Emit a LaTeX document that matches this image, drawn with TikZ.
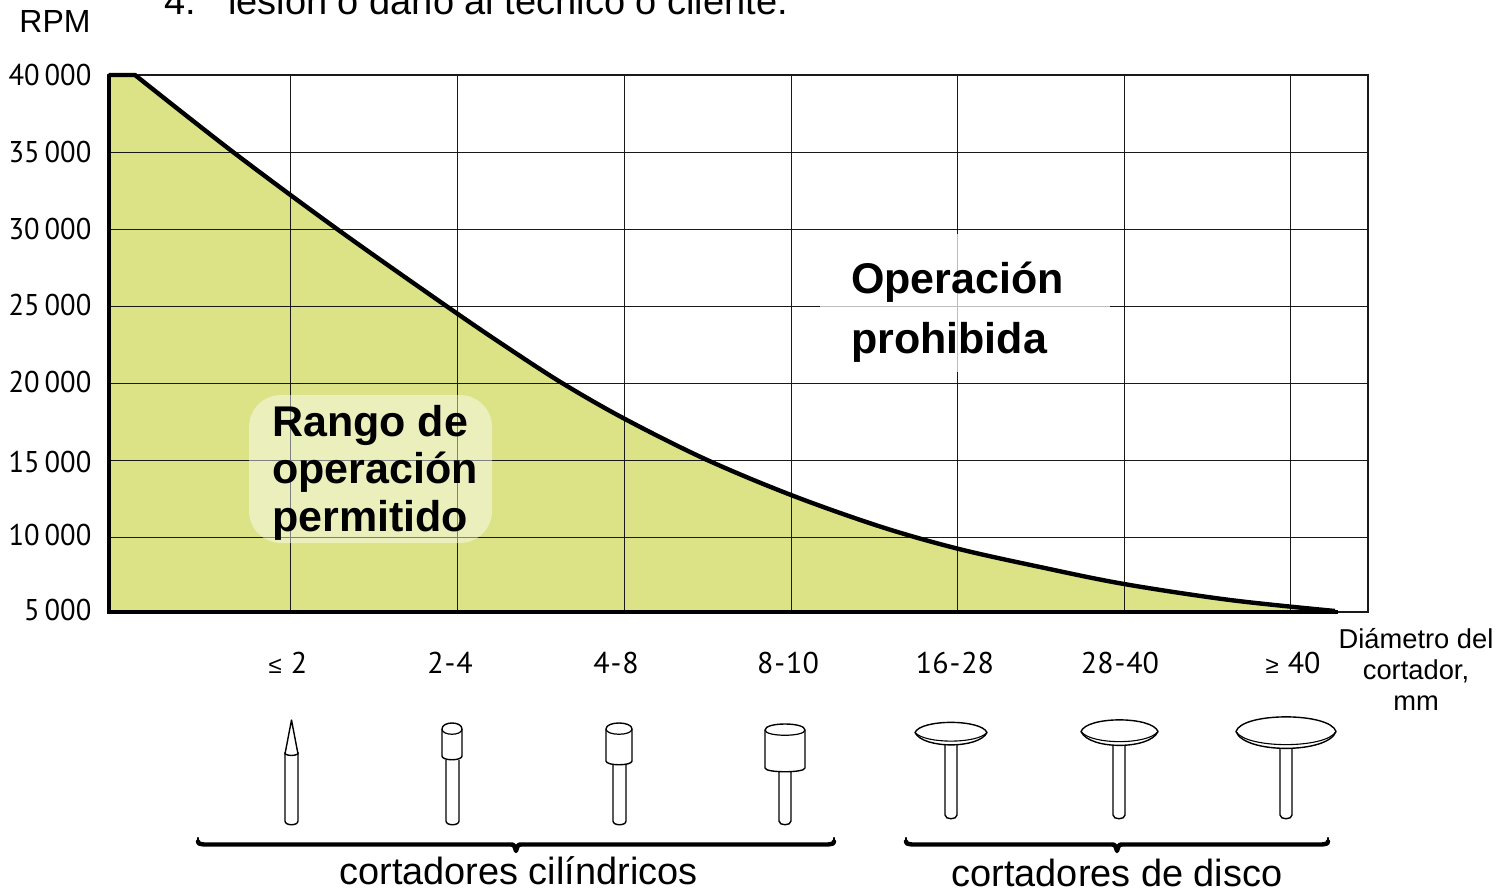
\documentclass[tikz,border=0pt]{standalone}
\usepackage{fontspec}
\setmainfont{Liberation Sans}
\newfontfamily\tickfont{PT Sans}
\newfontfamily\ticknarrow[FakeStretch=0.95]{PT Sans}
\definecolor{zone}{HTML}{DCE286}
\newcommand{\tsp}{\hspace{5pt}}
\newcommand{\hy}{\kern1pt-\kern1pt}
\newcommand{\cmpsym}[1]{{\rmfamily\fontsize{24}{24}\selectfont #1}\hspace{9pt}}
\tikzset{
  grid line/.style={line width=1pt,black!90},
  tick/.style={font=\ticknarrow\fontsize{30}{30}\selectfont,anchor=base east,inner sep=0pt},
  dia/.style={font=\tickfont\fontsize{30}{30}\selectfont,anchor=center,inner sep=0pt},
  lab/.style={font=\fontsize{27.3}{31}\selectfont,align=center,inner sep=0pt},
  big/.style={font=\bfseries\fontsize{43}{47}\selectfont,anchor=base west,inner sep=0pt},
  grp/.style={font=\fontsize{37.9}{40}\selectfont,anchor=base,inner sep=0pt},
  tool/.style={line width=1.4pt,black,fill=white,line join=round},
  brace line/.style={line width=4.4pt,black,line join=round,line cap=round}
}
% shank: left, right, top, bottom
\newcommand{\shankpath}[4]{\draw[tool] (#1,#3) -- (#1,#4-5) .. controls (#1,#4) and (#2,#4) .. (#2,#4-5) -- (#2,#3);}
% cylinder head: left, right, top, bottom
\newcommand{\headpath}[4]{%
  \draw[tool] (#1,#3+6) .. controls (#1,#3-2) and (#2,#3-2) .. (#2,#3+6)
     -- (#2,#4-6) .. controls (#2,#4-1) and (#1,#4-1) .. (#1,#4-6) -- cycle;
  \draw[line width=1.2pt] (#1,#3+6) .. controls (#1,#3+13) and (#2,#3+13) .. (#2,#3+6);}
% disc: left, right, top, bottom
\newcommand{\discpath}[4]{%
  \draw[tool] (#1,{(#3+#4)/2-2}) .. controls (#1+6,#3-3) and (#2-6,#3-3) .. (#2,{(#3+#4)/2-2})
     .. controls (#2-8,#4+2) and (#1+8,#4+2) .. (#1,{(#3+#4)/2-2}) -- cycle;
  \draw[line width=1.1pt] (#1,{(#3+#4)/2-2}) .. controls (#1+10,#4-3) and (#2-10,#4-3) .. (#2,{(#3+#4)/2-2});}
% brace: left, right, y, tip y
\newcommand{\bracepath}[4]{%
  \draw[line width=2.4pt,line cap=round] (#1,#3-6.5) -- (#1,#3-3) (#2,#3-6.5) -- (#2,#3-3);
  \draw[brace line] (#1,#3-3) .. controls (#1,#3-1) .. (#1+6,#3) -- ({(#1+#2)/2-6},#3)
     .. controls ({(#1+#2)/2-2},#3) .. ({(#1+#2)/2},#4-1)
     .. controls ({(#1+#2)/2+2},#3) .. ({(#1+#2)/2+6},#3) -- (#2-6,#3) .. controls (#2,#3-1) .. (#2,#3-3);}
\begin{document}
\begin{tikzpicture}[x=1pt,y=-1pt]
\useasboundingbox (0,0) rectangle (1512,890);
\fill[white] (0,0) rectangle (1512,890);
% permitted area
\fill[zone] (108,612) -- (108,75) -- (135,75) -- plot[smooth,tension=.55] coordinates
  {(135,75) (233,152) (337,229) (447,306.5) (505,346) (562,383) (624,418.5) (705,459) (791,495) (880,526.5) (957,548.5) (1040,567) (1124,584) (1230,600) (1335,611)} -- cycle;
% grid
\foreach \gx in {290.3,457.3,624,791,957.3,1124,1290.5} \draw[grid line] (\gx,75) -- (\gx,612);
\foreach \gy in {152.3,229.3,306.3,383.3,460.3,537.3} \draw[grid line] (108,\gy) -- (1368,\gy);
\draw[line width=2pt,black!90] (108,75) rectangle (1368,612);
% veil under "Operación prohibida"
\fill[white,opacity=.72] (820,234) rectangle (1110,372);
% limit curve
\draw[line width=4.4pt,line join=round] (108.5,75) -- (135,75) -- plot[smooth,tension=.55] coordinates
  {(135,75) (233,152) (337,229) (447,306.5) (505,346) (562,383) (624,418.5) (705,459) (791,495) (880,526.5) (957,548.5) (1040,567) (1124,584) (1230,600) (1335,611)};
\draw[line width=4pt] (1338,612) -- (108.7,612) -- (108.7,75);
% veil under "Rango"
\fill[white,opacity=.45,rounded corners=32pt] (249,395) rectangle (492,543);
% clipped text at top
\node[font=\fontsize{38}{38}\selectfont,anchor=base west,inner sep=0pt] (num) at (164,15) {4.};
\node[font=\fontsize{38}{38}\selectfont,anchor=base west,inner sep=0pt] (lesion) at (228,15) {lesión o daño al técnico o cliente.};
\node[font=\fontsize{32}{32}\selectfont,anchor=base,inner sep=0pt] (rpm) at (55,33) {RPM};
% y ticks
\node[tick] (t40) at (91.5,86) {40\tsp 000};
\node[tick] (t35) at (91.5,163) {35\tsp 000};
\node[tick] (t30) at (91.5,240) {30\tsp 000};
\node[tick] (t25) at (91.5,316) {25\tsp 000};
\node[tick] (t20) at (91.5,392) {20\tsp 000};
\node[tick] (t15) at (91.5,472) {15\tsp 000};
\node[tick] (t10) at (91.5,545) {10\tsp 000};
\node[tick] (t05) at (91.5,620) {5\tsp 000};
% area labels
\node[big] (op1) at (851,293.5) {Operación};
\node[big] (op2) at (851,353.5) {prohibida};
\node[big] (ra1) at (272,436) {Rango de};
\node[big] (ra2) at (272,483) {operación};
\node[big] (ra3) at (272,531) {permitido};
% diameters
\node[dia] (d1) at (288,663) {\cmpsym{≤}2};
\node[dia] (d2) at (450,663) {2\hy 4};
\node[dia] (d3) at (616,663) {4\hy 8};
\node[dia] (d4) at (788,663) {8\hy 10};
\node[dia] (d5) at (955,663) {16\hy 28};
\node[dia] (d6) at (1120,663) {28\hy 40};
\node[dia] (d7) at (1293,663) {\cmpsym{≥}40};
\node[lab] (dlab) at (1416,669) {Diámetro del\\cortador,\\mm};
% cutters, cylindrical
\shankpath{285}{298}{752}{826}
\draw[tool] (285,754) -- (291.5,720) -- (298,754) .. controls (294,756) and (289,756) .. (285,754) -- cycle;
\shankpath{446}{459}{760}{826}
\headpath{442}{462}{723}{762}
\shankpath{613}{626}{764}{826}
\headpath{606}{632}{723}{767}
\shankpath{779}{791}{771}{826}
\headpath{765}{805}{724}{774}
% cutters, disc
\shankpath{945}{957}{745}{820}
\discpath{915}{987}{722}{747}
\shankpath{1113}{1125}{745}{820}
\discpath{1081}{1158}{719}{748}
\shankpath{1280}{1292}{749}{820}
\discpath{1236}{1336}{715}{752}
% braces
\bracepath{198}{834}{844.5}{852}
\bracepath{906}{1328}{844.5}{852}
\node[grp] (g1) at (518.5,884) {cortadores cilíndricos};
\node[grp] (g2) at (1117,886) {cortadores de disco};
\end{tikzpicture}
\end{document}
